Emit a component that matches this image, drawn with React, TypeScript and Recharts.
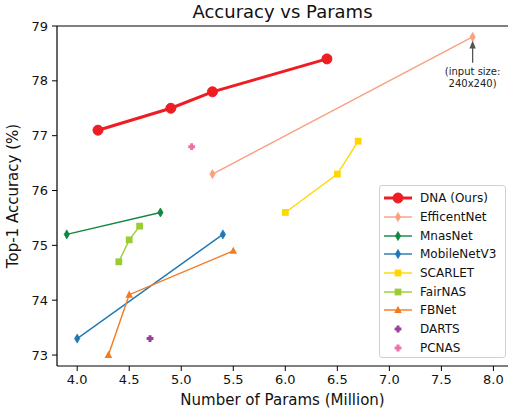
import React from "react";
import {
  ComposedChart, Line, Scatter, XAxis, YAxis, ReferenceLine, ReferenceDot,
} from "recharts";

// ---- data ----
const dnaParams = [4.2, 4.9, 5.3, 6.4];
const dnaAcc = [77.1, 77.5, 77.8, 78.4];
const effParams = [5.3, 7.8];
const effAcc = [76.3, 78.8];
const mnasParams = [3.9, 4.8];
const mnasAcc = [75.2, 75.6];
const mbv3Params = [4.0, 5.4];
const mbv3Acc = [73.3, 75.2];
const scarletParams = [6.0, 6.5, 6.7];
const scarletAcc = [75.6, 76.3, 76.9];
const fairParams = [4.4, 4.5, 4.6];
const fairAcc = [74.7, 75.1, 75.35];
const fbParams = [4.3, 4.5, 5.5];
const fbAcc = [73.0, 74.1, 74.9];
const dartsParams = [4.7];
const dartsAcc = [73.3];
const pcnasParams = [5.1];
const pcnasAcc = [76.8];

const xTicks = [4.0, 4.5, 5.0, 5.5, 6.0, 6.5, 7.0, 7.5, 8.0];
const yTicks = [73, 74, 75, 76, 77, 78, 79];

const zip = (xs: number[], ys: number[]) => xs.map((x, i) => ({ x, y: ys[i] }));

const FONT = "DejaVu Sans, sans-serif";

type Marker = "circle" | "diamond" | "square" | "triangle" | "plus" | "none";

function MarkerShape({ type, cx, cy, color }: { type: Marker; cx: number; cy: number; color: string }) {
  if (cx == null || cy == null) return null;
  switch (type) {
    case "circle":
      return <circle cx={cx} cy={cy} r={5} fill={color} stroke={color} />;
    case "diamond":
      return (
        <polygon
          points={`${cx},${cy - 4.5} ${cx + 2.6},${cy} ${cx},${cy + 4.5} ${cx - 2.6},${cy}`}
          fill={color} stroke={color} strokeWidth={0.8}
        />
      );
    case "square":
      return <rect x={cx - 3.4} y={cy - 3.4} width={6.8} height={6.8} fill={color} />;
    case "triangle":
      return (
        <polygon points={`${cx},${cy - 4.2} ${cx + 3.8},${cy + 3} ${cx - 3.8},${cy + 3}`} fill={color} />
      );
    case "plus": {
      const a = 3.4, b = 1.5;
      return (
        <polygon
          points={`${cx - b},${cy - a} ${cx + b},${cy - a} ${cx + b},${cy - b} ${cx + a},${cy - b} ${cx + a},${cy + b} ${cx + b},${cy + b} ${cx + b},${cy + a} ${cx - b},${cy + a} ${cx - b},${cy + b} ${cx - a},${cy + b} ${cx - a},${cy - b} ${cx - b},${cy - b}`}
          fill={color}
        />
      );
    }
    default:
      return null;
  }
}

const series: { name: string; xs: number[]; ys: number[]; color: string; marker: Marker; width: number; line: boolean }[] = [
  { name: "DNA (Ours)", xs: dnaParams, ys: dnaAcc, color: "#ee1d23", marker: "circle", width: 3, line: true },
  { name: "EfficentNet", xs: effParams, ys: effAcc, color: "#f9a07f", marker: "diamond", width: 1.4, line: true },
  { name: "MnasNet", xs: mnasParams, ys: mnasAcc, color: "#11873f", marker: "diamond", width: 1.4, line: true },
  { name: "MobileNetV3", xs: mbv3Params, ys: mbv3Acc, color: "#1f78b4", marker: "diamond", width: 1.4, line: true },
  { name: "SCARLET", xs: scarletParams, ys: scarletAcc, color: "#ffd700", marker: "square", width: 1.4, line: true },
  { name: "FairNAS", xs: fairParams, ys: fairAcc, color: "#9acd32", marker: "square", width: 1.4, line: true },
  { name: "FBNet", xs: fbParams, ys: fbAcc, color: "#f47a22", marker: "triangle", width: 1.4, line: true },
  { name: "DARTS", xs: dartsParams, ys: dartsAcc, color: "#9b3f9b", marker: "plus", width: 0, line: false },
  { name: "PCNAS", xs: pcnasParams, ys: pcnasAcc, color: "#ef6fa8", marker: "plus", width: 0, line: false },
];

function LegendBox() {
  return (
    <div
      style={{
        position: "absolute", left: 379, top: 185, width: 127, height: 173,
        border: "1px solid #d0d0d0", borderRadius: 3, background: "rgba(255,255,255,0.85)",
        boxSizing: "border-box", paddingTop: 3,
      }}
    >
      {series.map((s) => (
        <div key={s.name} style={{ display: "flex", alignItems: "center", height: 18.7 }}>
          <svg width={40} height={14} style={{ flex: "none" }}>
            {s.line && <line x1={4} y1={7} x2={32} y2={7} stroke={s.color} strokeWidth={s.width} />}
            <MarkerShape type={s.marker} cx={18} cy={7} color={s.color} />
          </svg>
          <span style={{ fontFamily: FONT, fontSize: 12, color: "#111", whiteSpace: "nowrap" }}>{s.name}</span>
        </div>
      ))}
    </div>
  );
}

export default function App() {
  return (
    <div style={{ position: "absolute", left: 0, top: 0, width: 509, height: 414, background: "#fff" }}>
      <div
        style={{
          position: "absolute", left: 57, width: 451, top: 0, textAlign: "center",
          fontFamily: FONT, fontSize: 18, lineHeight: "24px", color: "#111",
        }}
      >
        Accuracy vs Params
      </div>
      <ComposedChart width={509} height={414} margin={{ top: 26, right: 1, bottom: 0, left: 0 }}>
        <XAxis
          type="number" dataKey="x" domain={[3.806, 8.14]} ticks={xTicks} allowDataOverflow
          tickFormatter={(v: number) => v.toFixed(1)} height={48}
          tick={{ fill: "#111", fontSize: 13, fontFamily: FONT }} tickSize={5} tickMargin={4}
          stroke="#000" axisLine={{ stroke: "#000", strokeWidth: 1.2 }} tickLine={{ stroke: "#000" }}
          label={{ value: "Number of Params (Million)", position: "insideBottom", offset: 9, fill: "#111", fontSize: 15, fontFamily: FONT }}
        />
        <YAxis
          type="number" domain={[72.8, 79]} ticks={yTicks} allowDataOverflow width={57}
          tick={{ fill: "#111", fontSize: 13, fontFamily: FONT }} tickSize={5} tickMargin={4}
          axisLine={{ stroke: "#000", strokeWidth: 1.2 }} tickLine={{ stroke: "#000" }}
          label={{ value: "Top-1 Accuracy (%)", angle: -90, position: "insideLeft", offset: 13, fill: "#111", fontSize: 15, fontFamily: FONT, style: { textAnchor: "middle" } }}
        />
        <ReferenceLine y={79} stroke="#808080" strokeWidth={2} ifOverflow="extendDomain" />
        {series.filter((s) => s.line).map((s) => (
          <Line
            key={s.name} data={zip(s.xs, s.ys)} dataKey="y" type="linear" stroke={s.color}
            strokeWidth={s.width} isAnimationActive={false} activeDot={false}
            dot={(p: any) => <MarkerShape key={`${s.name}-${p.index}`} type={s.marker} cx={p.cx} cy={p.cy} color={s.color} />}
          />
        ))}
        {series.filter((s) => !s.line).map((s) => (
          <Scatter
            key={s.name} data={zip(s.xs, s.ys)} dataKey="y" isAnimationActive={false}
            shape={(p: any) => <MarkerShape type={s.marker} cx={p.cx} cy={p.cy} color={s.color} />}
          />
        ))}
        <ReferenceLine segment={[{ x: 7.8, y: 78.33 }, { x: 7.8, y: 78.62 }]} stroke="#555" strokeWidth={1.3} />
        <ReferenceDot
          x={7.8} y={78.7} r={0}
          shape={(p: any) => (
            <polygon points={`${p.cx},${p.cy - 2} ${p.cx + 3.2},${p.cy + 6} ${p.cx - 3.2},${p.cy + 6}`} fill="#555" />
          )}
        />
        <ReferenceDot
          x={7.8} y={78.3} r={0}
          shape={(p: any) => (
            <text x={p.cx} y={p.cy} textAnchor="middle" fontFamily={FONT} fontSize={10} fill="#222">
              <tspan x={p.cx} dy={11}>(input size:</tspan>
              <tspan x={p.cx} dy={11.5}>240x240)</tspan>
            </text>
          )}
        />
      </ComposedChart>
      <LegendBox />
    </div>
  );
}
